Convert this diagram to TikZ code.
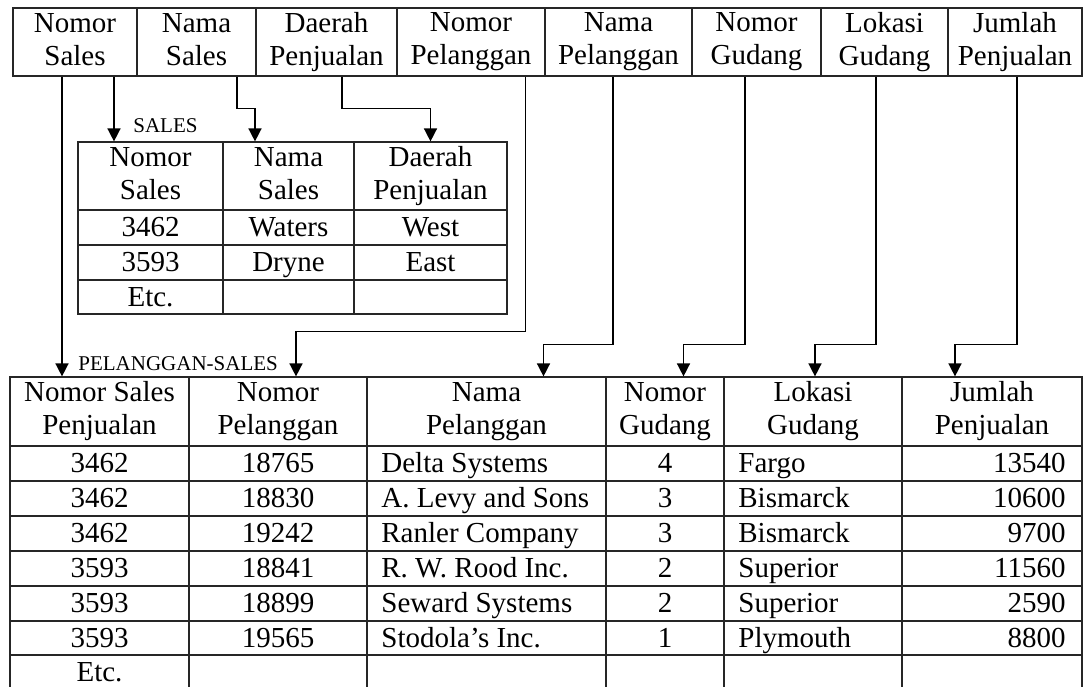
\documentclass[tikz,border=0pt]{standalone}
\usepackage{fontspec}
\setmainfont{Liberation Serif}
\usetikzlibrary{arrows.meta}

\newcommand{\cellfont}{\fontsize{14.5}{16.5}\selectfont}
\newcommand{\lblfont}{\fontsize{10.5}{12}\selectfont}
\newcommand{\topstrut}{\rule{0pt}{13.5pt}}
\newcommand{\botstrut}{\rule[-3pt]{0pt}{3pt}}

\tikzset{
  tline/.style={line width=0.6pt, draw=black!85},
  hcell/.style={tline, inner sep=0pt, align=center, font=\cellfont,
    execute at begin node=\topstrut, execute at end node=\botstrut},
  dcell/.style={inner sep=0pt, font=\cellfont, text height=11pt, text depth=2pt},
  lbl/.style={inner sep=0pt, anchor=base west, font=\lblfont},
  arr/.style={line width=0.75pt, -{Triangle[length=6.5pt,width=6.5pt]}},
}

\begin{document}
\begin{tikzpicture}[x=0.5pt,y=-0.5pt]
  \useasboundingbox (0,0) rectangle (1088,687);

  \node[hcell, minimum width=62pt,   minimum height=34pt] (tns)  at (75,42)    {Nomor\\Sales};
  \node[hcell, minimum width=59.5pt, minimum height=34pt] (tnm)  at (196.5,42) {Nama\\Sales};
  \node[hcell, minimum width=70.5pt, minimum height=34pt] (tdp)  at (326.5,42) {Daerah\\Penjualan};
  \node[hcell, minimum width=74pt,   minimum height=34pt] (tnp)  at (471,42)   {Nomor\\Pelanggan};
  \node[hcell, minimum width=73.5pt, minimum height=34pt] (tnpl) at (618.5,42) {Nama\\Pelanggan};
  \node[hcell, minimum width=64.5pt, minimum height=34pt] (tng)  at (756.5,42) {Nomor\\Gudang};
  \node[hcell, minimum width=63.5pt, minimum height=34pt] (tlg)  at (884.5,42) {Lokasi\\Gudang};
  \node[hcell, minimum width=67pt,   minimum height=34pt] (tjp)  at (1015,42)  {Jumlah\\Penjualan};

  \node[lbl] (lblsales) at (133,132) {SALES};
  \node[hcell, minimum width=72.5pt, minimum height=34pt] (sns) at (150.5,176) {Nomor\\Sales};
  \node[hcell, minimum width=65.5pt, minimum height=34pt] (snm) at (288.5,176) {Nama\\Sales};
  \node[hcell, minimum width=76.5pt, minimum height=34pt] (sdp) at (430.5,176) {Daerah\\Penjualan};
  \draw[tline] (78,210) rectangle (507,314);
  \draw[tline] (78,245) -- (507,245);
  \draw[tline] (78,280) -- (507,280);
  \draw[tline] (223,210) -- (223,314);
  \draw[tline] (354,210) -- (354,314);
  \node[dcell] (s1a) at (150.5,227.5) {3462};
  \node[dcell] (s1b) at (288.5,227.5) {Waters};
  \node[dcell] (s1c) at (430.5,227.5) {West};
  \node[dcell] (s2a) at (150.5,262.5) {3593};
  \node[dcell] (s2b) at (288.5,262.5) {Dryne};
  \node[dcell] (s2c) at (430.5,262.5) {East};
  \node[dcell] (s3a) at (150.5,297)   {Etc.};

  \node[lbl] (lblps) at (78,370) {PELANGGAN-SALES};
  \node[hcell, minimum width=89.5pt,  minimum height=34.5pt] (bns)  at (99.5,411.5)  {Nomor Sales\\Penjualan};
  \node[hcell, minimum width=89pt,    minimum height=34.5pt] (bnp)  at (278,411.5)   {Nomor\\Pelanggan};
  \node[hcell, minimum width=119.5pt, minimum height=34.5pt] (bnpl) at (486.5,411.5) {Nama\\Pelanggan};
  \node[hcell, minimum width=59pt,    minimum height=34.5pt] (bng)  at (665,411.5)   {Nomor\\Gudang};
  \node[hcell, minimum width=89pt,    minimum height=34.5pt] (blg)  at (813,411.5)   {Lokasi\\Gudang};
  \node[hcell, minimum width=90pt,    minimum height=34.5pt] (bjp)  at (992,411.5)   {Jumlah\\Penjualan};
  \draw[tline] (10,446) -- (10,687);
  \draw[tline] (189,446) -- (189,687);
  \draw[tline] (367,446) -- (367,687);
  \draw[tline] (606,446) -- (606,687);
  \draw[tline] (724,446) -- (724,687);
  \draw[tline] (902,446) -- (902,687);
  \draw[tline] (1082,446) -- (1082,687);
  \draw[tline] (10,481) -- (1082,481);
  \draw[tline] (10,516) -- (1082,516);
  \draw[tline] (10,551) -- (1082,551);
  \draw[tline] (10,586) -- (1082,586);
  \draw[tline] (10,621) -- (1082,621);
  \draw[tline] (10,655) -- (1082,655);

  \node[dcell] (p1a) at (99.5,463.5) {3462};
  \node[dcell] (p1b) at (278,463.5) {18765};
  \node[dcell, anchor=west] (p1c) at (381,463.5) {Delta Systems};
  \node[dcell] (p1d) at (665,463.5) {4};
  \node[dcell, anchor=west] (p1e) at (738,463.5) {Fargo};
  \node[dcell, anchor=east] (p1f) at (1066,463.5) {13540};

  \node[dcell] (p2a) at (99.5,498.5) {3462};
  \node[dcell] (p2b) at (278,498.5) {18830};
  \node[dcell, anchor=west] (p2c) at (381,498.5) {A. Levy and Sons};
  \node[dcell] (p2d) at (665,498.5) {3};
  \node[dcell, anchor=west] (p2e) at (738,498.5) {Bismarck};
  \node[dcell, anchor=east] (p2f) at (1066,498.5) {10600};

  \node[dcell] (p3a) at (99.5,533.5) {3462};
  \node[dcell] (p3b) at (278,533.5) {19242};
  \node[dcell, anchor=west] (p3c) at (381,533.5) {Ranler Company};
  \node[dcell] (p3d) at (665,533.5) {3};
  \node[dcell, anchor=west] (p3e) at (738,533.5) {Bismarck};
  \node[dcell, anchor=east] (p3f) at (1066,533.5) {9700};

  \node[dcell] (p4a) at (99.5,568.5) {3593};
  \node[dcell] (p4b) at (278,568.5) {18841};
  \node[dcell, anchor=west] (p4c) at (381,568.5) {R. W. Rood Inc.};
  \node[dcell] (p4d) at (665,568.5) {2};
  \node[dcell, anchor=west] (p4e) at (738,568.5) {Superior};
  \node[dcell, anchor=east] (p4f) at (1066,568.5) {11560};

  \node[dcell] (p5a) at (99.5,603.5) {3593};
  \node[dcell] (p5b) at (278,603.5) {18899};
  \node[dcell, anchor=west] (p5c) at (381,603.5) {Seward Systems};
  \node[dcell] (p5d) at (665,603.5) {2};
  \node[dcell, anchor=west] (p5e) at (738,603.5) {Superior};
  \node[dcell, anchor=east] (p5f) at (1066,603.5) {2590};

  \node[dcell] (p6a) at (99.5,638) {3593};
  \node[dcell] (p6b) at (278,638) {19565};
  \node[dcell, anchor=west] (p6c) at (381,638) {Stodola’s Inc.};
  \node[dcell] (p6d) at (665,638) {1};
  \node[dcell, anchor=west] (p6e) at (738,638) {Plymouth};
  \node[dcell, anchor=east] (p6f) at (1066,638) {8800};

  \node[dcell] (p7a) at (99.5,672) {Etc.};

  \draw[arr] ([xshift=-6.5pt]tns.south) -- ([xshift=-18.75pt]bns.north);
  \draw[arr] ([xshift=19.5pt]tns.south) -- ([xshift=-18.25pt]sns.north);
  \draw[arr] ([xshift=20.25pt]tnm.south) -- ++(0,32) -| ([xshift=-16.75pt]snm.north);
  \draw[arr] ([xshift=7.75pt]tdp.south) -- ++(0,32) -| (sdp.north);
  \draw[arr] ([xshift=27.25pt]tnp.south) -- ++(0,255) -| ([xshift=9pt]bnp.north);
  \draw[arr] ([xshift=-2.75pt]tnpl.south) -- ++(0,268) -| ([xshift=28.5pt]bnpl.north);
  \draw[arr] ([xshift=-5.75pt]tng.south) -- ++(0,268) -| ([xshift=9.25pt]bng.north);
  \draw[arr] ([xshift=-4.25pt]tlg.south) -- ++(0,268) -| ([xshift=1pt]blg.north);
  \draw[arr] ([xshift=1pt]tjp.south) -- ++(0,268) -| ([xshift=-18.5pt]bjp.north);
\end{tikzpicture}
\end{document}
